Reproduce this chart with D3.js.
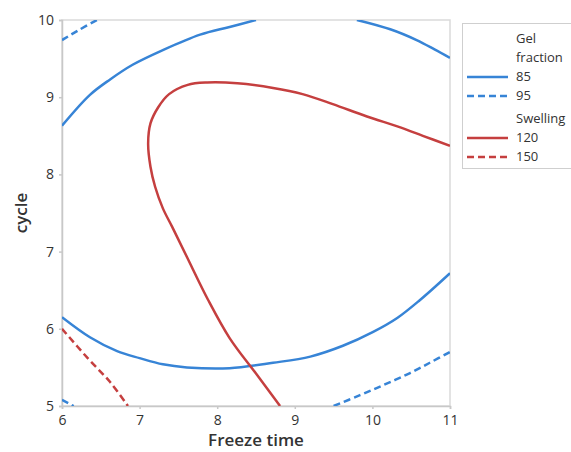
<!DOCTYPE html>
<html>
<head>
<meta charset="utf-8">
<script src="https://cdn.jsdelivr.net/npm/d3@7"></script>
<style>
  body { margin: 0; background: #fff; }
  text { font-family: "Open Sans", "Noto Sans", sans-serif; fill: #333; }
</style>
</head>
<body>
<div id="plot-canvas"></div>
<script>
// contour lines, [freeze time, cycle]
const gel85Upper = [[6.0, 8.63], [6.36, 9.03], [6.62, 9.23], [6.91, 9.42], [7.30, 9.61], [7.78, 9.81], [8.16, 9.91], [8.50, 10.0]];
const gel85Right = [[9.80, 10.0], [10.23, 9.88], [10.57, 9.74], [10.80, 9.62], [11.0, 9.51]];
const gel85Lower = [[6.0, 6.15], [6.36, 5.89], [6.71, 5.71], [7.0, 5.62], [7.30, 5.54], [7.61, 5.50], [8.16, 5.49],
    [8.72, 5.56], [9.20, 5.64], [9.62, 5.78], [10.01, 5.96], [10.32, 6.14], [10.61, 6.37], [11.0, 6.72]];
const gel95TopLeft = [[6.0, 9.74], [6.2, 9.86], [6.45, 10.0]];
const gel95BottomLeft = [[6.0, 5.08], [6.15, 5.0]];
const gel95BottomRight = [[9.50, 5.0], [9.84, 5.14], [10.14, 5.27], [10.45, 5.41], [10.74, 5.56], [11.0, 5.70]];
const swell120 = [[11.0, 8.37], [10.65, 8.50], [10.36, 8.61], [9.93, 8.75], [9.49, 8.91], [9.10, 9.04],
    [8.72, 9.12], [8.26, 9.18], [7.87, 9.19], [7.62, 9.16], [7.38, 9.04], [7.24, 8.87], [7.14, 8.66],
    [7.11, 8.40], [7.14, 8.10], [7.20, 7.84], [7.30, 7.56], [7.42, 7.32], [7.61, 6.93], [7.88, 6.38],
    [8.16, 5.88], [8.50, 5.42], [8.81, 5.0]];
const swell150 = [[6.0, 6.0], [6.34, 5.61], [6.62, 5.31], [6.85, 5.0]];

const xTicks = [6, 7, 8, 9, 10, 11];
const yTicks = [5, 6, 7, 8, 9, 10];

const blue = "#3784d6", red = "#c53f3f";
const contours = [
    {data: gel85Upper, color: blue, dash: null},
    {data: gel85Right, color: blue, dash: null},
    {data: gel85Lower, color: blue, dash: null},
    {data: gel95TopLeft, color: blue, dash: "7,4"},
    {data: gel95BottomLeft, color: blue, dash: "7,4"},
    {data: gel95BottomRight, color: blue, dash: "7,4"},
    {data: swell120, color: red, dash: null},
    {data: swell150, color: red, dash: "7,4"}
];

const legendGroups = [
    {title: ["Gel", "fraction"], items: [{label: "85", color: blue, dash: null}, {label: "95", color: blue, dash: "7,4"}]},
    {title: ["Swelling"], items: [{label: "120", color: red, dash: null}, {label: "150", color: red, dash: "7,4"}]}
];

const width = 571, height = 452;
const margin = {top: 20, right: 121, bottom: 46, left: 62};
const plotW = width - margin.left - margin.right,
    plotH = height - margin.top - margin.bottom;

const svg = d3.select("#plot-canvas").append("svg")
    .attr("width", width)
    .attr("height", height);

const x = d3.scaleLinear().domain([6, 11]).range([0, plotW]);
const y = d3.scaleLinear().domain([5, 10]).range([plotH, 0]);

const g = svg.append("g").attr("transform", "translate(" + margin.left + "," + margin.top + ")");

g.append("clipPath").attr("id", "clip")
    .append("rect").attr("width", plotW).attr("height", plotH);

// frame
g.append("rect")
    .attr("width", plotW).attr("height", plotH)
    .attr("fill", "none").attr("stroke", "#dadada").attr("stroke-width", 1.5);

//Draw x-axis
const xAxis = g.append("g")
    .attr("transform", "translate(0," + plotH + ")")
    .call(d3.axisBottom(x).tickValues(xTicks).tickFormat(d3.format("d")).tickSize(3).tickPadding(6));
//Draw y-axis
const yAxis = g.append("g")
    .call(d3.axisLeft(y).tickValues(yTicks).tickFormat(d3.format("d")).tickSize(3).tickPadding(5));

[xAxis, yAxis].forEach(function (a) {
    a.select(".domain").attr("stroke", "#c8c8c8").attr("stroke-width", 1.5);
    a.selectAll(".tick line").attr("stroke", "#c8c8c8").attr("stroke-width", 1.5);
    a.selectAll(".tick text").style("font-size", "14px").attr("fill", "#333")
        .style("font-family", "'Open Sans', sans-serif");
});

svg.append("text")
    .attr("x", margin.left + plotW / 2)
    .attr("y", 446)
    .style("text-anchor", "middle")
    .style("font-size", "17px")
    .style("font-weight", "600")
    .text("Freeze time");

svg.append("text")
    .attr("transform", "translate(27," + (margin.top + plotH / 2) + ") rotate(-90)")
    .style("text-anchor", "middle")
    .style("font-size", "17px")
    .style("font-weight", "600")
    .text("cycle");

const line = d3.line().x(d => x(d[0])).y(d => y(d[1])).curve(d3.curveCatmullRom.alpha(0.5));

g.append("g").attr("clip-path", "url(#clip)")
    .selectAll("path")
    .data(contours)
    .enter().append("path")
    .attr("d", c => line(c.data))
    .attr("fill", "none")
    .attr("stroke", c => c.color)
    .attr("stroke-width", 2.5)
    .attr("stroke-dasharray", c => c.dash);

// legend
const legend = svg.append("g");
legend.append("rect")
    .attr("x", 462.5).attr("y", 23.5)
    .attr("width", 120).attr("height", 145)
    .attr("fill", "#fff").attr("stroke", "#cfcfcf");

let rowY = 38;
legendGroups.forEach(function (grp, gi) {
    if (gi > 0) rowY += 4;
    grp.title.forEach(function (t) {
        legend.append("text").attr("x", 516).attr("y", rowY).attr("dy", "0.35em")
            .style("font-size", "13px").text(t);
        rowY += 19;
    });
    grp.items.forEach(function (it) {
        legend.append("line")
            .attr("x1", 467).attr("x2", 508)
            .attr("y1", rowY + 1).attr("y2", rowY + 1)
            .attr("stroke", it.color).attr("stroke-width", 2.5)
            .attr("stroke-dasharray", it.dash);
        legend.append("text").attr("x", 516).attr("y", rowY).attr("dy", "0.35em")
            .style("font-size", "13px").text(it.label);
        rowY += 19;
    });
});
</script>
</body>
</html>
